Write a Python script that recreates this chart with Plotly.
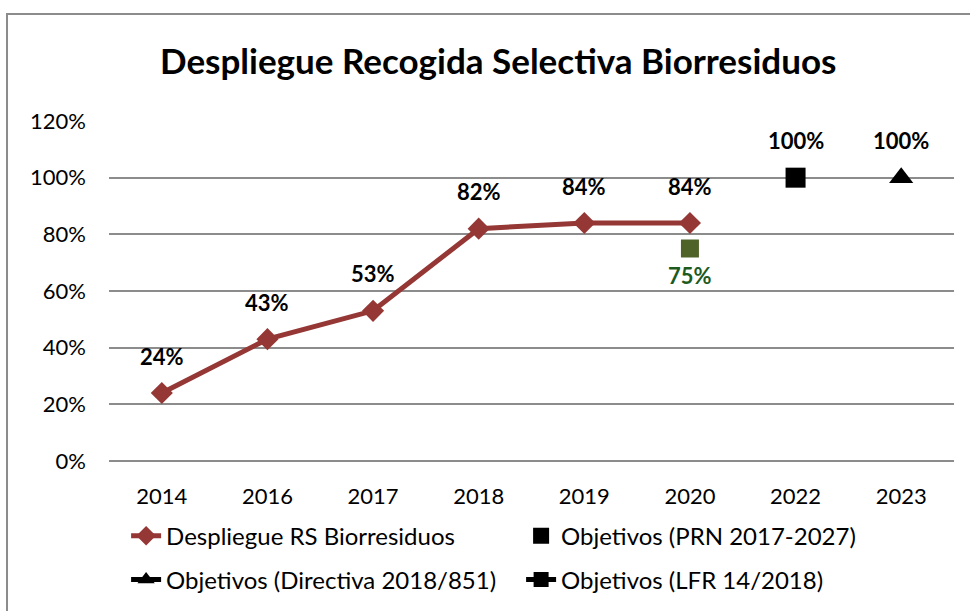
import plotly.graph_objects as go

# Categories and values
years = ["2014", "2016", "2017", "2018", "2019", "2020", "2022", "2023"]
despliegue_years = ["2014", "2016", "2017", "2018", "2019", "2020"]
despliegue_vals = [24, 43, 53, 82, 84, 84]
prn_years = ["2022"]
prn_vals = [100]
directiva_years = ["2023"]
directiva_vals = [100]
lfr_years = ["2020"]
lfr_vals = [75]
y_ticks = [0, 20, 40, 60, 80, 100, 120]
y_tick_text = [f"{v}%" for v in y_ticks]

FONT = "Lato"
RED = "#953735"
GREEN = "#4f6228"

fig = go.Figure()

# Data traces
fig.add_trace(go.Scatter(
    x=despliegue_years, y=despliegue_vals, mode="lines+markers",
    line=dict(color=RED, width=5),
    marker=dict(symbol="diamond", size=17, color=RED),
    showlegend=False, hoverinfo="skip"))
fig.add_trace(go.Scatter(
    x=prn_years, y=prn_vals, mode="markers",
    marker=dict(symbol="square", size=20, color="black"),
    showlegend=False, hoverinfo="skip"))
fig.add_trace(go.Scatter(
    x=directiva_years, y=directiva_vals, mode="markers",
    marker=dict(symbol="triangle-up", size=21, color="black"),
    showlegend=False, hoverinfo="skip"))
fig.add_trace(go.Scatter(
    x=lfr_years, y=lfr_vals, mode="markers",
    marker=dict(symbol="square", size=18, color=GREEN),
    showlegend=False, hoverinfo="skip"))

# Legend entries (two rows, one legend per row)
fig.add_trace(go.Scatter(
    x=[None], y=[None], mode="lines+markers", name="Despliegue RS Biorresiduos",
    line=dict(color=RED, width=5), marker=dict(symbol="diamond", size=15, color=RED),
    legend="legend"))
fig.add_trace(go.Scatter(
    x=[None], y=[None], mode="markers", name="Objetivos (PRN 2017-2027)",
    marker=dict(symbol="square", size=17, color="black"), legend="legend"))
fig.add_trace(go.Scatter(
    x=[None], y=[None], mode="lines+markers", name="Objetivos (Directiva 2018/851)",
    line=dict(color="black", width=5), marker=dict(symbol="triangle-up", size=15, color="black"),
    legend="legend2"))
fig.add_trace(go.Scatter(
    x=[None], y=[None], mode="lines+markers", name="Objetivos (LFR 14/2018)",
    line=dict(color="black", width=5), marker=dict(symbol="square", size=15, color="black"),
    legend="legend2"))

# Value labels
annotations = []
for xs, vs in [(despliegue_years, despliegue_vals), (prn_years, prn_vals), (directiva_years, directiva_vals)]:
    for x, v in zip(xs, vs):
        annotations.append(dict(x=years.index(x), y=v, xref="x", yref="y", text=f"<b>{v}%</b>",
                                showarrow=False, yshift=37,
                                font=dict(family=FONT, size=22, color="black")))
for x, v in zip(lfr_years, lfr_vals):
    annotations.append(dict(x=years.index(x), y=v, xref="x", yref="y", text=f"<b>{v}%</b>",
                            showarrow=False, yshift=-27,
                            font=dict(family=FONT, size=22, color="#1d5a1d")))

annotations.append(dict(
    x=0.46, xref="paper", y=1.18, yref="paper", yanchor="middle",
    text="<b>Despliegue Recogida Selectiva Biorresiduos</b>", showarrow=False,
    font=dict(family=FONT, size=35, color="black")))

legend_common = dict(orientation="h", xanchor="left", yanchor="middle", entrywidth=350,
                     xref="container", yref="container",
                     font=dict(family=FONT, size=24, color="black"), bgcolor="rgba(0,0,0,0)")

fig.update_layout(
    width=970, height=611,
    margin=dict(l=109, r=16, t=121, b=150, autoexpand=False),
    paper_bgcolor="white", plot_bgcolor="white",
    font=dict(family=FONT, size=22, color="black"),
    annotations=annotations,
    shapes=[dict(type="rect", xref="paper", yref="paper",
                 x0=-0.1207, x1=1.2, y0=-0.6, y1=1.3147,
                 line=dict(color="#8c8c8c", width=2), layer="below")],
    legend=dict(x=0.13, y=0.1227, **legend_common),
    legend2=dict(x=0.13, y=0.0507, **legend_common),
    xaxis=dict(type="category", categoryorder="array", categoryarray=years,
               range=[-0.5, len(years) - 0.5], showgrid=False, showline=False,
               ticks="", tickfont=dict(family=FONT, size=22), ticklabelstandoff=20,
               automargin=False),
    yaxis=dict(range=[0, 120], tickmode="array", tickvals=y_ticks, ticktext=y_tick_text,
               showgrid=True, gridcolor="#8c8c8c", gridwidth=1.5, zeroline=True,
               zerolinecolor="#8c8c8c", zerolinewidth=1.5, showline=False, ticks="",
               ticklabelstandoff=22, tickfont=dict(family=FONT, size=22), automargin=False),
)

fig.write_html("out.html")
